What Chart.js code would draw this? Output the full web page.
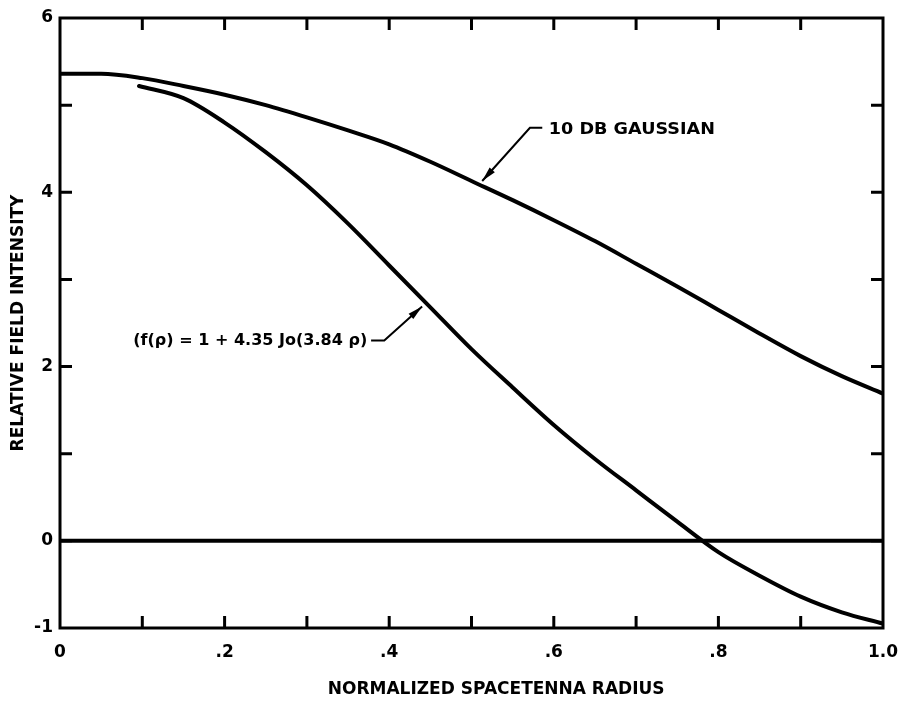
<!DOCTYPE html>
<html>
<head>
<meta charset="utf-8">
<script src="https://cdn.jsdelivr.net/npm/chart.js@4.4.0/dist/chart.umd.min.js"></script>
<style>
  body { margin: 0; background: #fff; }
  #wrap { width: 900px; height: 706px; }
</style>
</head>
<body>
<div id="wrap"><canvas id="c" width="900" height="706"></canvas></div>
<script>
// values
const gaussRadius = [0, 0.05, 0.1, 0.15, 0.2, 0.25, 0.3, 0.35, 0.4, 0.45, 0.5, 0.55, 0.6, 0.65, 0.7, 0.75, 0.8, 0.85, 0.9, 0.95, 1.0];
const gaussField  = [5.36, 5.36, 5.31, 5.22, 5.12, 5.00, 4.86, 4.71, 4.55, 4.35, 4.13, 3.91, 3.68, 3.44, 3.18, 2.92, 2.65, 2.38, 2.12, 1.89, 1.69];

const besselRadius = [0.096, 0.15, 0.2, 0.25, 0.3, 0.35, 0.4, 0.45, 0.5, 0.55, 0.6, 0.65, 0.7, 0.75, 0.8, 0.85, 0.9, 0.95, 1.0];
const besselField  = [5.22, 5.08, 4.80, 4.46, 4.08, 3.64, 3.16, 2.68, 2.20, 1.76, 1.33, 0.94, 0.58, 0.22, -0.13, -0.40, -0.64, -0.82, -0.95];

const zeroRadius = [0, 1];
const zeroField  = [0, 0];

const xLabelValues = [0, 0.2, 0.4, 0.6, 0.8, 1.0];
const xTickLabels  = ['0', '.2', '.4', '.6', '.8', '1.0'];
const xMinorTicks  = [0.1, 0.2, 0.3, 0.4, 0.5, 0.6, 0.7, 0.8, 0.9];

const yLabelValues = [-1, 0, 2, 4, 6];
const yTickLabels  = ['-1', '0', '2', '4', '6'];
const yMinorTicks  = [0, 1, 2, 3, 4, 5];

const xTitle = 'NORMALIZED SPACETENNA RADIUS';
const yTitle = 'RELATIVE FIELD INTENSITY';
const xTitleAt = 0.53;

// callouts: text anchor, leader path (data units)
const gaussNote = { text: '10 DB GAUSSIAN', x: 0.594, y: 4.715, width: 166,
                    path: [[0.586, 4.74], [0.571, 4.74], [0.513, 4.13]] };
const besselNote = { text: '(f(\u03C1) = 1 + 4.35 Jo(3.84 \u03C1)', x: 0.089, y: 2.293, width: 234,
                     path: [[0.378, 2.30], [0.394, 2.30], [0.440, 2.69]] };

const pts = (xs, ys) => xs.map((x, i) => ({ x: x, y: ys[i] }));
const FONT = '"DejaVu Sans", "Liberation Sans", Arial, sans-serif';
Chart.defaults.font.family = FONT;
Chart.defaults.color = '#000';

function drawNote(ctx, xs, ys, note) {
  ctx.save();
  ctx.font = 'bold 16px ' + FONT;
  ctx.textBaseline = 'middle';
  const w = ctx.measureText(note.text).width;
  const px = xs.getPixelForValue(note.x), py = ys.getPixelForValue(note.y);
  ctx.translate(px, py);
  ctx.scale(note.width / w, 1);
  ctx.fillStyle = '#000';
  ctx.fillText(note.text, 0, 0);
  ctx.restore();

  const p = note.path.map(([a, b]) => [xs.getPixelForValue(a), ys.getPixelForValue(b)]);
  ctx.save();
  ctx.strokeStyle = '#000';
  ctx.lineWidth = 2;
  ctx.beginPath();
  ctx.moveTo(p[0][0], p[0][1]);
  for (let i = 1; i < p.length; i++) ctx.lineTo(p[i][0], p[i][1]);
  ctx.stroke();
  // arrow head
  const [tx, ty] = p[p.length - 1], [fx, fy] = p[p.length - 2];
  const ang = Math.atan2(ty - fy, tx - fx);
  ctx.translate(tx, ty);
  ctx.rotate(ang);
  ctx.beginPath();
  ctx.moveTo(0, 0);
  ctx.lineTo(-15, -3.5);
  ctx.lineTo(-15, 3.5);
  ctx.closePath();
  ctx.fillStyle = '#000';
  ctx.fill();
  ctx.restore();
}

const framePlugin = {
  id: 'frame',
  afterDraw(chart) {
    const { ctx, chartArea: a, scales } = chart;
    const xs = scales.x, ys = scales.y;
    ctx.save();
    ctx.strokeStyle = '#000';
    ctx.lineWidth = 3;
    ctx.strokeRect(a.left, a.top, a.right - a.left, a.bottom - a.top);
    const len = 12;
    ctx.beginPath();
    xMinorTicks.forEach(v => {
      const px = xs.getPixelForValue(v);
      ctx.moveTo(px, a.bottom); ctx.lineTo(px, a.bottom - len);
      ctx.moveTo(px, a.top); ctx.lineTo(px, a.top + len);
    });
    yMinorTicks.forEach(v => {
      const py = ys.getPixelForValue(v);
      ctx.moveTo(a.left, py); ctx.lineTo(a.left + len, py);
      ctx.moveTo(a.right, py); ctx.lineTo(a.right - len, py);
    });
    ctx.stroke();

    // x axis title
    ctx.font = 'bold 17px ' + FONT;
    ctx.fillStyle = '#000';
    ctx.textAlign = 'center';
    ctx.textBaseline = 'middle';
    ctx.fillText(xTitle, xs.getPixelForValue(xTitleAt), a.bottom + 62);
    ctx.restore();

    drawNote(ctx, xs, ys, gaussNote);
    drawNote(ctx, xs, ys, besselNote);
  }
};

const lineStyle = {
  borderColor: '#000', borderWidth: 4, pointRadius: 0,
  cubicInterpolationMode: 'monotone', borderCapStyle: 'round', fill: false
};

new Chart(document.getElementById('c'), {
  type: 'line',
  data: {
    datasets: [
      Object.assign({ label: '10 dB Gaussian', data: pts(gaussRadius, gaussField) }, lineStyle),
      Object.assign({ label: 'f(rho)', data: pts(besselRadius, besselField) }, lineStyle),
      Object.assign({ label: 'zero', data: pts(zeroRadius, zeroField) }, lineStyle, { borderCapStyle: 'butt' })
    ]
  },
  options: {
    responsive: false,
    animation: false,
    layout: { padding: { top: 18, right: 17, bottom: 0, left: 0 } },
    plugins: { legend: { display: false }, tooltip: { enabled: false } },
    scales: {
      x: {
        type: 'linear', min: 0, max: 1,
        afterFit: s => { s.height = 78; s.paddingLeft = 0; s.paddingRight = 0; },
        afterBuildTicks: s => { s.ticks = xLabelValues.map(v => ({ value: v })); },
        grid: { display: false, drawTicks: false },
        border: { display: false },
        ticks: {
          padding: 14, maxRotation: 0, autoSkip: false,
          font: { size: 17, weight: 'bold' },
          callback: (v, i) => xTickLabels[i]
        },
        title: { display: false }
      },
      y: {
        type: 'linear', min: -1, max: 6,
        afterFit: s => { s.width = 60; s.paddingTop = 0; s.paddingBottom = 0; },
        afterBuildTicks: s => { s.ticks = yLabelValues.map(v => ({ value: v })); },
        grid: { display: false, drawTicks: false },
        border: { display: false },
        ticks: {
          padding: 7, autoSkip: false,
          font: { size: 17, weight: 'bold' },
          callback: (v, i) => yTickLabels[i]
        },
        title: {
          display: true, text: yTitle,
          font: { size: 17, weight: 'bold' },
          padding: { top: 8, bottom: 0 }
        }
      }
    }
  },
  plugins: [framePlugin]
});
</script>
</body>
</html>
